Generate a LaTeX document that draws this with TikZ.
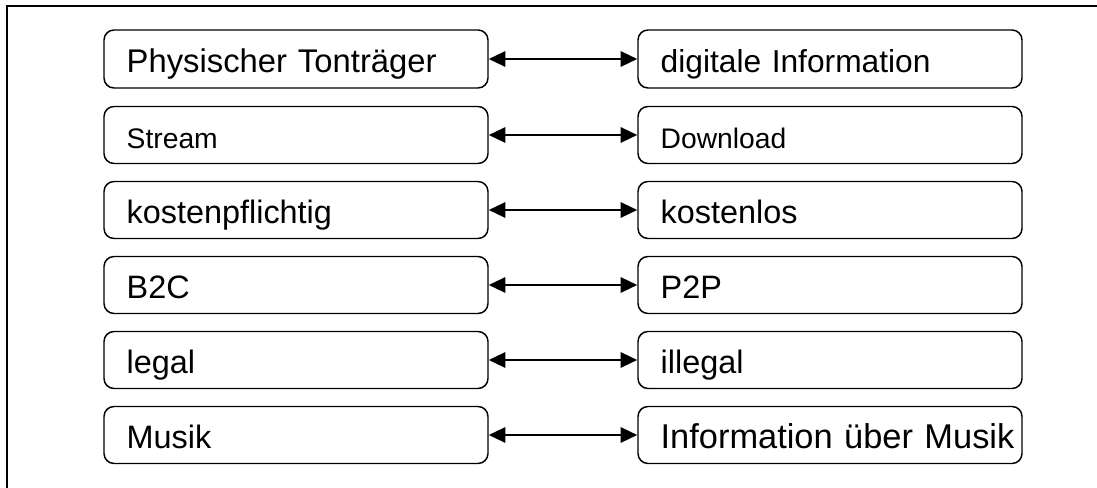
\documentclass[tikz,border=0pt]{standalone}
\usepackage{fontspec}
\setmainfont{Liberation Sans}
\usetikzlibrary{arrows.meta}
\tikzset{
  pairbox/.style={draw=black, line width=1.1pt, rounded corners=7.5pt,
    minimum width=288pt, minimum height=42.75pt, inner xsep=17pt, inner ysep=0pt,
    text width=254pt, align=left, text height=31.5pt, text depth=11.25pt,
    font=\fontsize{24.3}{28}\selectfont},
  bigtxt/.style={font=\fontsize{24.6}{28}\selectfont},
  smalltxt/.style={font=\fontsize{21.2}{25}\selectfont},
  biarrow/.style={line width=1.6pt, {Triangle[length=12.5pt,width=11.5pt]}-{Triangle[length=12.5pt,width=11.5pt]}}
}
\begin{document}
\begin{tikzpicture}[x=0.75pt,y=-0.75pt]
\useasboundingbox (0,0) rectangle (1097,488);
\draw[line width=1.5pt] (7,488) -- (7,6) -- (1097,6);
\node[pairbox, bigtxt, minimum height=43.5pt] (l1) at (296,59) {Physischer Tonträger};
\node[pairbox, minimum height=43.5pt, font=\fontsize{23.8}{28}\selectfont] (r1) at (830,59) {digitale Information};
\node[pairbox, smalltxt] (l2) at (296,135) {Stream};
\node[pairbox, smalltxt] (r2) at (830,135) {Download};
\node[pairbox] (l3) at (296,210) {kostenpflichtig};
\node[pairbox] (r3) at (830,210) {kostenlos};
\node[pairbox] (l4) at (296,285) {B2C};
\node[pairbox] (r4) at (830,285) {P2P};
\node[pairbox] (l5) at (296,360) {legal};
\node[pairbox] (r5) at (830,360) {illegal};
\node[pairbox] (l6) at (296,435) {Musik};
\node[pairbox, font=\fontsize{25.8}{28}\selectfont] (r6) at (830,435) {\makebox[0pt][l]{Information über Musik}};
\foreach \i in {1,...,6} {
  \draw[biarrow] (l\i.east) -- (r\i.west);
}
\end{tikzpicture}
\end{document}
